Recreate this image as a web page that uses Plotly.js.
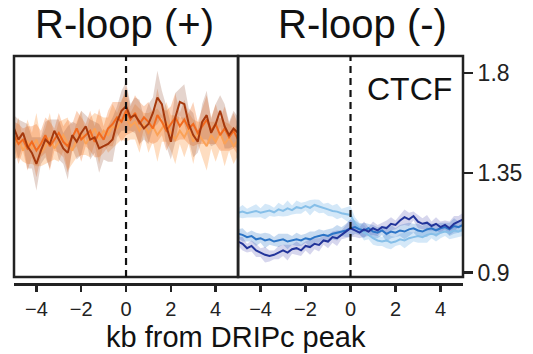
<!DOCTYPE html>
<html>
<head>
<meta charset="utf-8">
<script src="https://cdn.plot.ly/plotly-3.0.1.min.js"></script>
<style>html,body{margin:0;padding:0;background:#fff;}#chart{width:533px;height:354px;}</style>
</head>
<body>
<div id="chart"></div>
<script>
// distance from DRIPc peak (kb)
const kb = [-5,-4.8,-4.6,-4.4,-4.2,-4,-3.8,-3.6,-3.4,-3.2,-3,-2.8,-2.6,-2.4,-2.2,-2,-1.8,-1.6,-1.4,-1.2,-1,-0.8,-0.6,-0.4,-0.2,0,0.2,0.4,0.6,0.8,1,1.2,1.4,1.6,1.8,2,2.2,2.4,2.6,2.8,3,3.2,3.4,3.6,3.8,4,4.2,4.4,4.6,4.8,5];

// R-loop (+) panel, CTCF signal
const plusDark = [1.55,1.50,1.53,1.47,1.44,1.39,1.45,1.50,1.48,1.54,1.50,1.46,1.44,1.52,1.49,1.53,1.56,1.50,1.51,1.46,1.47,1.48,1.50,1.58,1.63,1.65,1.60,1.61,1.58,1.55,1.57,1.62,1.69,1.66,1.56,1.49,1.60,1.67,1.66,1.57,1.52,1.49,1.58,1.61,1.53,1.57,1.63,1.56,1.52,1.55,1.53];
const plusMid = [1.52,1.48,1.50,1.46,1.49,1.45,1.48,1.52,1.47,1.50,1.53,1.49,1.47,1.51,1.55,1.50,1.52,1.54,1.49,1.53,1.50,1.55,1.57,1.60,1.58,1.63,1.59,1.62,1.57,1.60,1.58,1.55,1.61,1.58,1.54,1.57,1.60,1.56,1.59,1.55,1.57,1.53,1.56,1.59,1.54,1.57,1.52,1.55,1.51,1.54,1.50];
const plusLight = [1.47,1.51,1.45,1.49,1.46,1.50,1.44,1.47,1.51,1.46,1.49,1.52,1.48,1.45,1.50,1.53,1.48,1.51,1.55,1.50,1.54,1.52,1.56,1.55,1.59,1.60,1.56,1.58,1.54,1.57,1.53,1.56,1.52,1.55,1.58,1.53,1.50,1.54,1.51,1.55,1.49,1.53,1.50,1.47,1.52,1.49,1.53,1.48,1.51,1.47,1.50];
const plusErr = [0.06,0.09,0.05,0.10,0.07,0.12,0.06,0.08,0.11,0.05,0.09,0.07,0.12,0.06,0.08,0.10,0.05,0.09,0.07,0.11,0.06,0.08,0.10,0.07,0.09,0.11,0.06,0.08,0.10,0.05,0.09,0.07,0.12,0.06,0.09,0.08,0.11,0.06,0.09,0.07,0.10,0.05,0.08,0.11,0.06,0.09,0.07,0.10,0.06,0.08,0.07];

// R-loop (-) panel, CTCF signal
const minusLight = [1.17,1.175,1.168,1.172,1.178,1.17,1.175,1.18,1.172,1.185,1.178,1.19,1.182,1.195,1.19,1.20,1.192,1.205,1.198,1.19,1.185,1.178,1.175,1.168,1.165,1.16,1.12,1.10,1.08,1.07,1.055,1.045,1.04,1.045,1.035,1.04,1.05,1.045,1.055,1.06,1.065,1.06,1.07,1.075,1.07,1.08,1.085,1.08,1.09,1.085,1.095];
const minusDark = [1.04,1.03,1.01,1.02,1.00,0.99,0.98,0.975,0.98,0.99,1.00,0.99,1.005,1.01,1.00,1.02,1.015,1.03,1.025,1.045,1.04,1.06,1.055,1.07,1.085,1.10,1.09,1.08,1.095,1.085,1.10,1.09,1.105,1.10,1.12,1.115,1.135,1.15,1.14,1.155,1.13,1.12,1.125,1.11,1.12,1.105,1.115,1.10,1.12,1.13,1.14];
const minusMid = [1.075,1.07,1.06,1.065,1.05,1.055,1.045,1.05,1.04,1.045,1.05,1.04,1.045,1.05,1.045,1.055,1.05,1.06,1.065,1.07,1.065,1.075,1.08,1.085,1.09,1.10,1.105,1.095,1.09,1.10,1.085,1.08,1.09,1.075,1.085,1.08,1.09,1.085,1.095,1.10,1.09,1.085,1.095,1.10,1.09,1.10,1.105,1.095,1.11,1.105,1.115];
const minusErr = [0.02,0.03,0.02,0.025,0.03,0.02,0.035,0.025,0.02,0.03,0.025,0.035,0.02,0.03,0.025,0.02,0.035,0.025,0.03,0.02,0.03,0.025,0.035,0.02,0.03,0.04,0.03,0.025,0.035,0.02,0.03,0.025,0.02,0.035,0.03,0.02,0.025,0.035,0.03,0.02,0.03,0.025,0.035,0.02,0.03,0.025,0.02,0.03,0.035,0.025,0.03];

const xTicks = [-4,-2,0,2,4];
const xTickText = ['\u22124','\u22122','0','2','4'];
const yTicks = [0.9,1.35,1.8];
const yTickText = ['0.9','1.35','1.8'];
const panelTitles = ['R-loop (+)','R-loop (-)'];
const markLabel = 'CTCF';
const xTitle = 'kb from DRIPc peak';

const series = [
  {y: plusLight, err: plusErr, xa: 'x', line: '#fba257', band: 'rgba(252,170,100,0.40)'},
  {y: plusMid, err: plusErr, xa: 'x', line: '#f26a1e', band: 'rgba(244,118,45,0.32)'},
  {y: plusDark, err: plusErr, xa: 'x', line: '#a5380c', band: 'rgba(160,100,75,0.28)'},
  {y: minusLight, err: minusErr, xa: 'x2', line: '#86bfe8', band: 'rgba(160,205,240,0.45)'},
  {y: minusMid, err: minusErr, xa: 'x2', line: '#2b74c6', band: 'rgba(70,135,210,0.30)'},
  {y: minusDark, err: minusErr, xa: 'x2', line: '#22349a', band: 'rgba(70,70,175,0.22)'}
];

const traces = [];
series.forEach(s => {
  const hi = s.y.map((v,i) => v + s.err[i]);
  const lo = s.y.map((v,i) => v - s.err[i]);
  traces.push({x: kb, y: hi, xaxis: s.xa, yaxis: 'y', mode: 'lines', line: {width: 0, color: s.band}, showlegend: false, hoverinfo: 'skip'});
  traces.push({x: kb, y: lo, xaxis: s.xa, yaxis: 'y', mode: 'lines', line: {width: 0, color: s.band}, fill: 'tonexty', fillcolor: s.band, showlegend: false, hoverinfo: 'skip'});
});
series.forEach(s => {
  traces.push({x: kb, y: s.y, xaxis: s.xa, yaxis: 'y', mode: 'lines', line: {width: 2, color: s.line}, showlegend: false});
});

const font = 'Liberation Sans, Arial, sans-serif';
const axisCommon = {
  range: [-5, 5], showgrid: false, zeroline: false, showline: true, linewidth: 2.5, linecolor: '#222',
  ticks: 'outside', ticklen: 6, tickwidth: 2.5, tickcolor: '#222',
  tickvals: xTicks, ticktext: xTickText, tickfont: {family: font, size: 20, color: '#222'},
  anchor: 'free', position: 0
};

const boxLine = {color: '#222', width: 2.5};
const shapes = [
  {type: 'rect', xref: 'x domain', yref: 'y domain', x0: 0, x1: 1, y0: 0, y1: 1, line: boxLine},
  {type: 'rect', xref: 'x2 domain', yref: 'y domain', x0: 0, x1: 1, y0: 0, y1: 1, line: boxLine},
  {type: 'line', xref: 'x', yref: 'y domain', x0: 0, x1: 0, y0: 0, y1: 1, line: {color: '#111', width: 2.2, dash: '7px,5px'}},
  {type: 'line', xref: 'x2', yref: 'y domain', x0: 0, x1: 0, y0: 0, y1: 1, line: {color: '#111', width: 2.2, dash: '7px,5px'}}
];

const layout = {
  width: 533, height: 354,
  margin: {l: 14, r: 70, t: 56, b: 70},
  paper_bgcolor: '#fff', plot_bgcolor: '#fff',
  showlegend: false,
  xaxis: Object.assign({}, axisCommon, {domain: [0, 0.499]}),
  xaxis2: Object.assign({}, axisCommon, {domain: [0.499, 1]}),
  yaxis: {
    domain: [0.0307, 1], range: [0.880, 1.877], anchor: 'x2', side: 'right',
    showgrid: false, zeroline: false, showline: false,
    ticks: 'outside', ticklen: 9, tickwidth: 2.5, tickcolor: '#222',
    tickvals: yTicks, ticktext: yTickText, tickfont: {family: font, size: 23, color: '#222'}
  },
  shapes: shapes,
  annotations: [
    {xref: 'paper', yref: 'paper', x: 0.245, y: 1.14, text: panelTitles[0], showarrow: false, xanchor: 'center', yanchor: 'middle', font: {family: font, size: 40, color: '#111'}},
    {xref: 'paper', yref: 'paper', x: 0.777, y: 1.14, text: panelTitles[1], showarrow: false, xanchor: 'center', yanchor: 'middle', font: {family: font, size: 40, color: '#111'}},
    {xref: 'paper', yref: 'paper', x: 0.881, y: 0.857, text: markLabel, showarrow: false, xanchor: 'center', yanchor: 'middle', font: {family: font, size: 32, color: '#111'}},
    {xref: 'paper', yref: 'paper', x: 0.494, y: -0.232, text: xTitle, showarrow: false, xanchor: 'center', yanchor: 'middle', font: {family: font, size: 29, color: '#111'}}
  ]
};

Plotly.newPlot('chart', traces, layout, {staticPlot: true, displayModeBar: false});
</script>
</body>
</html>
